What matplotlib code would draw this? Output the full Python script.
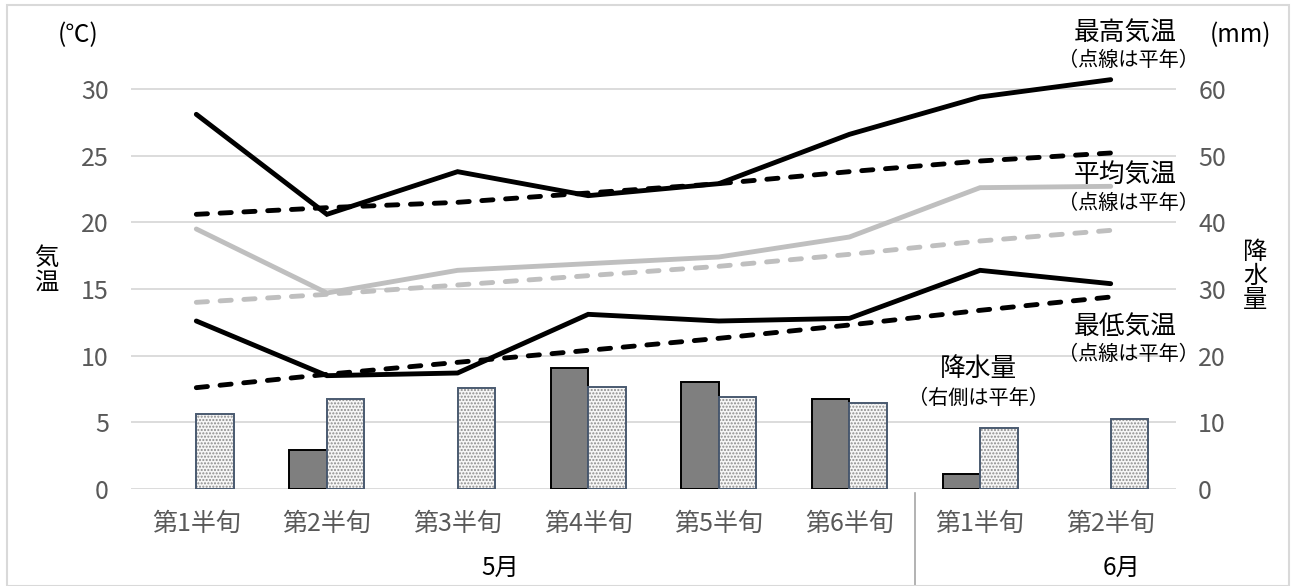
import matplotlib
matplotlib.use("Agg")
import matplotlib.pyplot as plt
import matplotlib.transforms as mtransforms
from matplotlib.patches import Rectangle
from matplotlib.lines import Line2D
import numpy as np

plt.rcParams['font.family'] = ['Noto Sans CJK JP', 'DejaVu Sans']

# half-month periods (May 1-6, June 1-2)
periods = ["第1半旬", "第2半旬", "第3半旬", "第4半旬", "第5半旬", "第6半旬", "第1半旬", "第2半旬"]
months = ["5月", "6月"]

# temperatures (deg C)
tmax = [28.1, 20.6, 23.8, 22.0, 22.9, 26.6, 29.4, 30.7]
tmax_norm = [20.6, 21.1, 21.5, 22.2, 22.9, 23.8, 24.6, 25.2]
tmean = [19.5, 14.7, 16.4, 16.9, 17.4, 18.9, 22.6, 22.7]
tmean_norm = [14.0, 14.6, 15.3, 16.0, 16.7, 17.6, 18.6, 19.4]
tmin = [12.6, 8.5, 8.7, 13.1, 12.6, 12.8, 16.4, 15.4]
tmin_norm = [7.6, 8.6, 9.5, 10.4, 11.3, 12.3, 13.4, 14.4]

# precipitation (mm)
rain = [0, 5.8, 0, 18.2, 16.1, 13.5, 2.2, 0]
rain_norm = [11.3, 13.5, 15.1, 15.3, 13.8, 12.9, 9.1, 10.5]

W, H = 1293, 586
fig = plt.figure(figsize=(W / 100, H / 100), dpi=100)

def px(x, y):
    return x / W, 1 - y / H

# plot area in pixels
left, right, y0 = 131, 1176, 489
per_deg = 400 / 30
top_deg = 31.5
ax = fig.add_axes([left / W, (H - y0) / H, (right - left) / W, top_deg * per_deg / H])
ax2 = ax.twinx()
ax.set_zorder(ax2.get_zorder() + 1)
ax.patch.set_visible(False)

x = np.arange(len(periods))
bw = 0.287

# precipitation bars on the right axis (no bar for a dry period)
r = np.array(rain, dtype=float)
wet = r > 0
ax2.bar(x[wet] - bw / 2, r[wet], bw, color="#7f7f7f", edgecolor="black", linewidth=1.4, zorder=3)
ax2.bar(x + bw / 2, rain_norm, bw, color="#f7f7f7", edgecolor="#8c8c8c", hatch=".....",
        linewidth=0, zorder=3)
ax2.bar(x + bw / 2, rain_norm, bw, fill=False, edgecolor="#4a5a70", linewidth=1.4, zorder=4)
ax2.set_ylim(0, top_deg * 2)
ax2.set_yticks(range(0, 61, 10))

# temperature lines on the left axis
lw = 3.5
dash = (0, (2.3, 2.6))
ax.plot(x, tmax, color="black", lw=lw, solid_capstyle="round", solid_joinstyle="miter", clip_on=False)
ax.plot(x, tmax_norm, color="black", lw=lw, ls=dash, dash_capstyle="round", clip_on=False)
ax.plot(x, tmean, color="#bfbfbf", lw=lw, solid_capstyle="round", solid_joinstyle="miter", clip_on=False)
ax.plot(x, tmean_norm, color="#bfbfbf", lw=lw, ls=dash, dash_capstyle="round", clip_on=False)
ax.plot(x, tmin, color="black", lw=lw, solid_capstyle="round", solid_joinstyle="miter", clip_on=False)
ax.plot(x, tmin_norm, color="black", lw=lw, ls=dash, dash_capstyle="round", clip_on=False)

ax.set_xlim(-0.5, len(periods) - 0.5)
ax.set_ylim(0, top_deg)
ax.set_yticks(range(0, 31, 5))

# gridlines drawn under the bars
for v in range(0, 31, 5):
    ax2.axhline(v * 2, color="#d9d9d9", lw=1.3, zorder=1)

for a in (ax, ax2):
    for s in a.spines.values():
        s.set_visible(False)
    a.tick_params(length=0, labelsize=18, labelcolor="#595959")
ax.tick_params(axis="y", pad=16)
ax2.tick_params(axis="y", pad=16)
ax.set_xticks(x)
ax.set_xticklabels(periods)
ax.tick_params(axis="x", pad=16)

# month labels and separator
trans = mtransforms.blended_transform_factory(ax.transData, fig.transFigure)
ax.text(2.33, 1 - 568 / H, months[0], transform=trans, ha="center", va="center", fontsize=17.5)
ax.text(7.08, 1 - 568 / H, months[1], transform=trans, ha="center", va="center", fontsize=17.5)
ax.add_line(Line2D([5.5, 5.5], [1 - 493 / H, 0], transform=trans, color="#a6a6a6", lw=1.2, clip_on=False))

# axis titles
fig.text(*px(78, 35), "(℃)", ha="center", va="center", fontsize=17.5)
fig.text(*px(1240, 35), "(mm)", ha="center", va="center", fontsize=17.5)
fig.text(*px(46, 270), "気\n温", ha="center", va="center", fontsize=17.5, linespacing=0.95)
fig.text(*px(1255, 276), "降\n水\n量", ha="center", va="center", fontsize=17.5, linespacing=0.92)

# series notes
notes = [("最高気温", 33, 60), ("平均気温", 176, 203), ("最低気温", 327, 354)]
for name, ya, yb in notes:
    fig.text(*px(1125, ya), name, ha="center", va="center", fontsize=18.5)
    fig.text(*px(1128, yb), "（点線は平年）", ha="center", va="center", fontsize=14.5)
fig.text(*px(978, 369), "降水量", ha="center", va="center", fontsize=18.5)
fig.text(*px(978, 398), "（右側は平年）", ha="center", va="center", fontsize=14.5)

# chart frame
fig.patches.append(Rectangle(px(7, 586), (1289 - 7) / W, (586 - 5) / H, transform=fig.transFigure,
                             fill=False, edgecolor="#d9d9d9", lw=1.5))

fig.savefig("out.png", dpi=100)
